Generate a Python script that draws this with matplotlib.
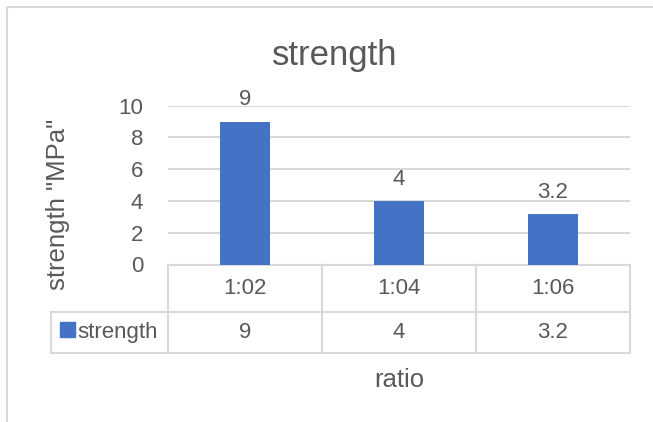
import matplotlib
matplotlib.use("Agg")
import matplotlib.pyplot as plt
from matplotlib.lines import Line2D
from matplotlib.patches import Rectangle

plt.rcParams["font.family"] = ["Liberation Sans", "DejaVu Sans"]

ratios = ["1:02", "1:04", "1:06"]
strength = [9, 4, 3.2]
value_labels = ["9", "4", "3.2"]
series_name = "strength"
y_ticks = [0, 2, 4, 6, 8, 10]

TEXT = "#595959"
GRID = "#D9D9D9"
BAR = "#4472C4"

W, H = 653, 422
fig = plt.figure(figsize=(W / 100, H / 100), dpi=100)


def fx(px):
    return px / W


def fy(py):
    return 1 - py / H


# plot area, in pixels of the final image
left, right, top, bottom = 168, 630, 105.7, 264.5
ax = fig.add_axes([fx(left), fy(bottom), fx(right) - fx(left), fy(top) - fy(bottom)])

x = list(range(len(ratios)))
bars = ax.bar(x, strength, width=0.325, color=BAR, zorder=3)
for rect, lab in zip(bars, value_labels):
    ax.annotate(lab, (rect.get_x() + rect.get_width() / 2, rect.get_height()),
                xytext=(0, 8), textcoords="offset points", ha="center", va="bottom",
                fontsize=16, color=TEXT, annotation_clip=False)

ax.set_xlim(-0.5, len(ratios) - 0.5)
ax.set_ylim(0, 10)
ax.set_yticks(y_ticks)
ax.set_xticks([])
ax.tick_params(axis="y", length=0, pad=18, labelsize=16, labelcolor=TEXT)
ax.yaxis.grid(True, color=GRID, linewidth=1.5, zorder=0)
for s in ax.spines.values():
    s.set_visible(False)
ax.set_facecolor("none")

# overlay in pixel coordinates for frame, title and data table
ov = fig.add_axes([0, 0, 1, 1], zorder=-1)
ov.set_xlim(0, W)
ov.set_ylim(H, 0)
ov.axis("off")

ov.add_patch(Rectangle((7, 7), W + 10, H + 10, fill=False, edgecolor=GRID, linewidth=1.5))

ov.text(335, 65, "strength", ha="center", va="baseline", fontsize=25, color=TEXT)
ov.text(58, 204, 'strength "MPa"', rotation=90, ha="center", va="center",
        fontsize=18.5, color=TEXT)
ov.text((left + right) / 2, 387, "ratio", ha="center", va="baseline", fontsize=18.5, color=TEXT)

row_mid, row_bot = 311.5, 353
legend_left = 51
cell_w = (right - left) / len(ratios)
lw = 1.5
ov.add_line(Line2D([left, right], [bottom, bottom], color=GRID, lw=lw))
ov.add_line(Line2D([legend_left, right], [row_mid, row_mid], color=GRID, lw=lw))
ov.add_line(Line2D([legend_left, right], [row_bot, row_bot], color=GRID, lw=lw))
ov.add_line(Line2D([legend_left, legend_left], [row_mid, row_bot], color=GRID, lw=lw))
for i in range(len(ratios) + 1):
    cx = left + i * cell_w
    ov.add_line(Line2D([cx, cx], [bottom, row_bot], color=GRID, lw=lw))

for i, (r, v) in enumerate(zip(ratios, value_labels)):
    cx = left + (i + 0.5) * cell_w
    ov.text(cx, (bottom + row_mid) / 2, r, ha="center", va="center", fontsize=16, color=TEXT)
    ov.text(cx, (row_mid + row_bot) / 2, v, ha="center", va="center", fontsize=16, color=TEXT)

# legend key inside the table
ov.add_patch(Rectangle((60, 322), 15, 15, color=BAR))
ov.text(77, (row_mid + row_bot) / 2, series_name, ha="left", va="center", fontsize=16, color=TEXT)

fig.savefig("out.png", dpi=100)
